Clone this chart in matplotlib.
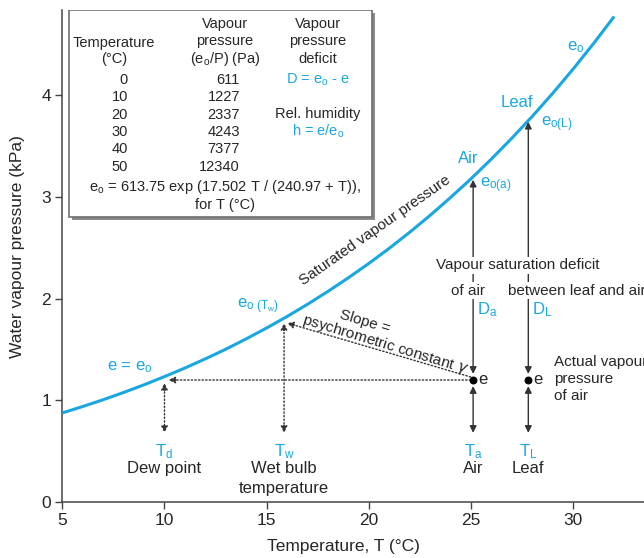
import matplotlib
matplotlib.use('Agg')
import matplotlib.pyplot as plt
from matplotlib.patches import Rectangle

plt.rcParams['font.family'] = ['Liberation Sans', 'DejaVu Sans']
plt.rcParams['mathtext.default'] = 'regular'

# saturated vapour pressure curve (kPa)
temps = [5, 6, 7, 8, 9, 10, 11, 12, 13, 14, 15, 16, 17, 18, 19, 20,
         21, 22, 23, 24, 25, 26, 27, 28, 29, 30, 31, 32]
e_sat = [0.876, 0.939, 1.006, 1.077, 1.153, 1.233, 1.318, 1.408, 1.503, 1.605,
         1.712, 1.825, 1.945, 2.072, 2.206, 2.347, 2.496, 2.654, 2.820, 2.996,
         3.180, 3.375, 3.580, 3.795, 4.022, 4.261, 4.512, 4.776]

# table in the inset box
tab_temp = ['0', '10', '20', '30', '40', '50']
tab_pa = ['611', '1227', '2337', '4243', '7377', '12340']

# key points
e_air = 1.2        # actual vapour pressure of air
T_dew = 10.0
T_wet = 15.85
e_wet = 1.78
T_air = 25.1
e_air_sat = 3.17
T_leaf = 27.8
e_leaf_sat = 3.74

blue = '#1aa7e1'
dark = '#262626'

fig = plt.figure(figsize=(6.44, 5.58), dpi=100)
ax = fig.add_axes([0.0967, 0.1004, 0.9033, 0.8817])
ax.plot(temps, e_sat, color=blue, lw=2.2, solid_capstyle='butt', zorder=3)

ax.set_xlim(5, 33.46)
ax.set_ylim(0, 4.84)
ax.set_xticks([5, 10, 15, 20, 25, 30])
ax.set_yticks([0, 1, 2, 3, 4])
ax.spines['top'].set_visible(False)
ax.spines['right'].set_visible(False)
for s in ['left', 'bottom']:
    ax.spines[s].set_color('#444444')
    ax.spines[s].set_linewidth(1.1)
ax.tick_params(direction='out', length=5, width=1, color='#444444',
               labelsize=12.5, labelcolor=dark, pad=3)
ax.set_xlabel('Temperature, T (°C)', fontsize=12.5, color=dark)
ax.set_ylabel('Water vapour pressure (kPa)', fontsize=12.5, color=dark)
ax.xaxis.set_label_coords(0.483, -0.075)
ax.yaxis.set_label_coords(-0.064, 0.52)

# inset table box with shadow
ax.add_patch(Rectangle((5.48, 2.77), 14.82, 2.04, facecolor='#8a8a8a',
                       edgecolor='none', zorder=4))
ax.add_patch(Rectangle((5.33, 2.80), 14.82, 2.04, facecolor='white',
                       edgecolor='#707070', lw=1.2, zorder=5))
tk = dict(fontsize=10.5, color=dark, zorder=6)
ax.text(7.53, 4.52, 'Temperature', ha='center', va='center', **tk)
ax.text(7.53, 4.36, '(°C)', ha='center', va='center', **tk)
for i, t in enumerate(['Vapour', 'pressure', '($e_o$/P) (Pa)']):
    ax.text(12.96, 4.70 - 0.17 * i, t, ha='center', va='center', **tk)
for i, t in enumerate(['Vapour', 'pressure', 'deficit']):
    ax.text(17.51, 4.70 - 0.17 * i, t, ha='center', va='center', **tk)
for i in range(len(tab_temp)):
    y = 4.15 - 0.17 * i
    ax.text(8.21, y, tab_temp[i], ha='right', va='center', **tk)
    ax.text(13.69, y, tab_pa[i], ha='right', va='center', **tk)
ax.text(17.51, 4.15, 'D = $e_o$ - e', ha='center', va='center',
        fontsize=10.5, color=blue, zorder=6)
ax.text(17.51, 3.82, 'Rel. humidity', ha='center', va='center', **tk)
ax.text(17.51, 3.65, 'h = e/$e_o$', ha='center', va='center',
        fontsize=10.5, color=blue, zorder=6)
ax.text(12.96, 3.10, '$e_o$ = 613.75 exp (17.502 T / (240.97 + T)),',
        ha='center', va='center', **tk)
ax.text(12.96, 2.92, 'for T (°C)', ha='center', va='center', **tk)

# arrows
solid = dict(arrowstyle='<|-|>', color='#333333', lw=1, mutation_scale=10,
             shrinkA=0, shrinkB=0)
dotted = dict(arrowstyle='<|-|>', color='#333333', lw=1, mutation_scale=10,
              linestyle=(0, (1, 1.6)), shrinkA=0, shrinkB=0)
dotted1 = dict(dotted, arrowstyle='-|>')

ax.annotate('', xy=(T_air, e_air_sat), xytext=(T_air, e_air + 0.06), arrowprops=solid)
ax.annotate('', xy=(T_leaf, e_leaf_sat), xytext=(T_leaf, e_air + 0.06), arrowprops=solid)
ax.annotate('', xy=(T_air, 0.68), xytext=(T_air, e_air - 0.06), arrowprops=solid)
ax.annotate('', xy=(T_leaf, 0.68), xytext=(T_leaf, e_air - 0.06), arrowprops=solid)
ax.annotate('', xy=(T_dew + 0.2, e_air), xytext=(T_air - 0.12, e_air), arrowprops=dotted1)
ax.annotate('', xy=(T_dew, 0.68), xytext=(T_dew, e_air - 0.03), arrowprops=dotted)
ax.annotate('', xy=(T_wet, e_wet - 0.02), xytext=(T_wet, 0.68), arrowprops=dotted)
ax.annotate('', xy=(T_wet + 0.15, e_wet - 0.02), xytext=(T_air - 0.12, e_air + 0.03),
            arrowprops=dotted1)
ax.scatter([T_air, T_leaf], [e_air, e_air], s=22, color='black', zorder=6)

# curve labels
ax.text(30.1, 4.47, '$e_o$', fontsize=12, color=blue, ha='center', va='center')
ax.text(27.26, 3.93, 'Leaf', fontsize=12, color=blue, ha='center', va='center')
ax.text(28.4, 3.72, '$e_{o(L)}$', fontsize=12, color=blue, ha='left', va='center')
ax.text(24.86, 3.38, 'Air', fontsize=12, color=blue, ha='center', va='center')
ax.text(25.45, 3.12, '$e_{o(a)}$', fontsize=12, color=blue, ha='left', va='center')
ax.text(20.3, 2.67, 'Saturated vapour pressure', fontsize=11, color=dark,
        rotation=35, ha='center', va='center')
ax.text(8.3, 1.33, 'e = $e_o$', fontsize=12, color=blue, ha='center', va='center')
ax.text(14.6, 1.93, '$e_{o\\ (T_w)}$', fontsize=12, color=blue, ha='center', va='center')
ax.text(19.8, 1.77, 'Slope =', fontsize=11, color=dark, rotation=-17,
        ha='center', va='center')
ax.text(20.8, 1.55, 'psychrometric constant $\\mathit{\\gamma}$', fontsize=11,
        color=dark, rotation=-17, ha='center', va='center')

# deficit labels (white boxes break the arrows)
wb = dict(facecolor='white', edgecolor='none', pad=1.0)
ax.text(27.26, 2.33, 'Vapour saturation deficit', fontsize=11, color=dark,
        ha='center', va='center', bbox=wb, zorder=7)
ax.text(24.86, 2.08, 'of air', fontsize=11, color=dark, ha='center',
        va='center', bbox=wb, zorder=7)
ax.text(30.15, 2.08, 'between leaf and air', fontsize=11, color=dark,
        ha='center', va='center', bbox=wb, zorder=7)
ax.text(T_air + 0.2, 1.89, '$D_a$', fontsize=12, color=blue, ha='left', va='center')
ax.text(T_leaf + 0.2, 1.89, '$D_L$', fontsize=12, color=blue, ha='left', va='center')
ax.text(T_air + 0.25, e_air, 'e', fontsize=12, color=dark, ha='left', va='center')
ax.text(T_leaf + 0.25, e_air, 'e', fontsize=12, color=dark, ha='left', va='center')
ax.text(29.07, 1.21, 'Actual vapour\npressure\nof air', fontsize=11, color=dark,
        ha='left', va='center', linespacing=1.25, clip_on=False)

# temperature labels at the bottom
for x, sym, name in [(T_dew, '$T_d$', 'Dew point'), (T_air, '$T_a$', 'Air'),
                     (T_leaf, '$T_L$', 'Leaf'), (T_wet, '$T_w$', 'Wet bulb')]:
    ax.text(x, 0.50, sym, fontsize=12, color=blue, ha='center', va='center')
    ax.text(x, 0.334, name, fontsize=12, color=dark, ha='center', va='center')
ax.text(T_wet, 0.128, 'temperature', fontsize=12, color=dark, ha='center',
        va='center')

fig.savefig('out.png', dpi=100)
plt.close(fig)
